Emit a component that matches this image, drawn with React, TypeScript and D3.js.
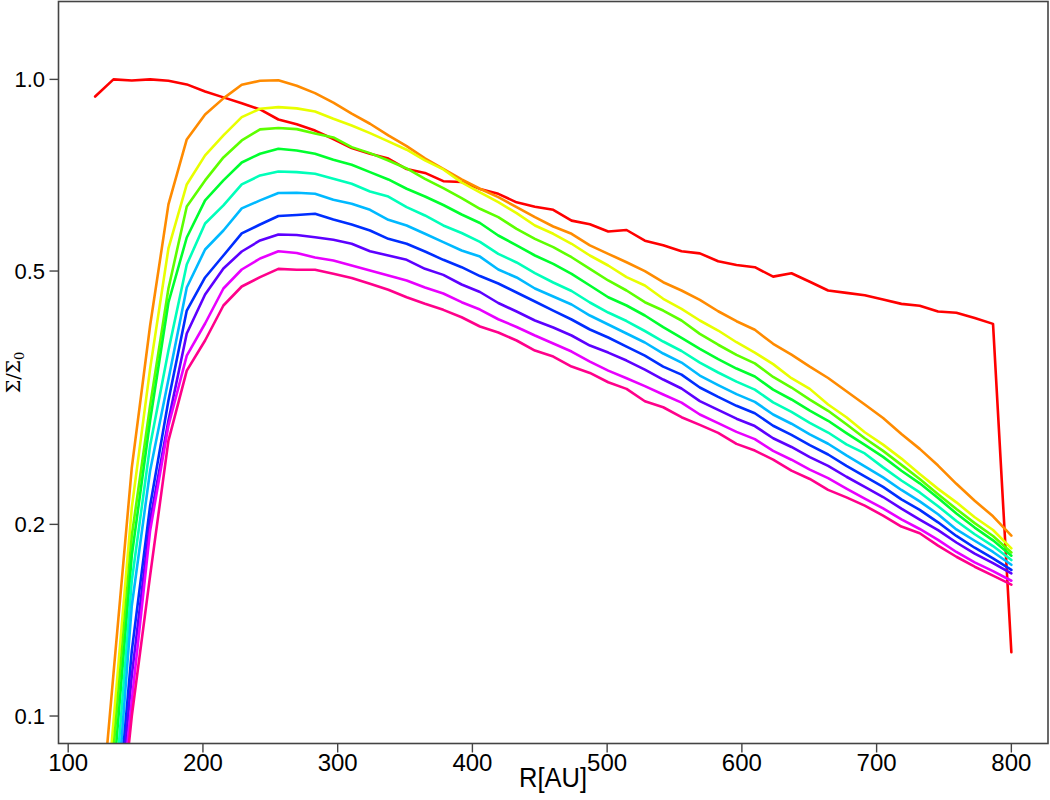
import React from 'react';
import * as d3 from 'd3';

// Radius sample points [AU]
const R_AU: number[] = [120, 133.6, 147.2, 160.8, 174.4, 188, 201.6, 215.2, 228.8, 242.4, 256, 269.6, 283.2, 296.8, 310.4, 324, 337.6, 351.2, 364.8, 378.4, 392, 405.6, 419.2, 432.8, 446.4, 460, 473.6, 487.2, 500.8, 514.4, 528, 541.6, 555.2, 568.8, 582.4, 596, 609.6, 623.2, 636.8, 650.4, 664, 677.6, 691.2, 704.8, 718.4, 732, 745.6, 759.2, 772.8, 786.4, 800];

// Surface density profiles Σ/Σ0 (one per snapshot)
const S00: number[] = [0.940, 1.000, 0.996, 1.000, 0.995, 0.982, 0.957, 0.937, 0.917, 0.897, 0.865, 0.850, 0.831, 0.806, 0.780, 0.764, 0.751, 0.723, 0.713, 0.692, 0.690, 0.673, 0.661, 0.641, 0.631, 0.624, 0.600, 0.592, 0.577, 0.580, 0.558, 0.549, 0.537, 0.533, 0.518, 0.511, 0.507, 0.490, 0.496, 0.481, 0.466, 0.462, 0.458, 0.451, 0.444, 0.441, 0.432, 0.430, 0.422, 0.413, 0.126];
const S01: number[] = [0.0548, 0.1165, 0.2456, 0.4106, 0.6362, 0.8048, 0.8810, 0.9336, 0.981, 0.995, 0.997, 0.977, 0.9516, 0.9191, 0.8832, 0.8518, 0.8166, 0.7855, 0.7514, 0.7237, 0.6964, 0.6733, 0.6531, 0.6300, 0.6075, 0.5874, 0.5721, 0.5485, 0.5321, 0.5162, 0.4997, 0.4802, 0.4660, 0.4506, 0.4323, 0.4170, 0.4043, 0.3843, 0.3696, 0.3539, 0.3396, 0.3237, 0.3085, 0.2939, 0.2774, 0.2628, 0.2474, 0.2316, 0.2179, 0.2059, 0.1920];
const S02: number[] = [0.0452, 0.0978, 0.2125, 0.3514, 0.5425, 0.6839, 0.7596, 0.8166, 0.8724, 0.8993, 0.9046, 0.9004, 0.8906, 0.8673, 0.8466, 0.8234, 0.7990, 0.7754, 0.7459, 0.7220, 0.6889, 0.6644, 0.6415, 0.6164, 0.5896, 0.5721, 0.5518, 0.5289, 0.5101, 0.4890, 0.4745, 0.4522, 0.4361, 0.4181, 0.4032, 0.3865, 0.3723, 0.3571, 0.3393, 0.3265, 0.3085, 0.2947, 0.2791, 0.2669, 0.2537, 0.2400, 0.2274, 0.2166, 0.2052, 0.1960, 0.1834];
const S03: number[] = [0.0427, 0.0887, 0.1920, 0.3074, 0.4694, 0.6316, 0.6939, 0.7541, 0.8019, 0.8345, 0.8386, 0.8354, 0.8225, 0.8107, 0.7827, 0.7659, 0.7459, 0.7246, 0.6980, 0.6750, 0.6509, 0.6263, 0.6075, 0.5825, 0.5618, 0.5451, 0.5256, 0.5040, 0.4832, 0.4660, 0.4467, 0.4334, 0.4181, 0.3984, 0.3830, 0.3693, 0.3580, 0.3409, 0.3281, 0.3141, 0.3016, 0.2872, 0.2731, 0.2609, 0.2480, 0.2357, 0.2231, 0.2114, 0.2009, 0.1918, 0.1807];
const S04: number[] = [0.0383, 0.0799, 0.1786, 0.2911, 0.4462, 0.5645, 0.6455, 0.6939, 0.7405, 0.7642, 0.7781, 0.7734, 0.7642, 0.7478, 0.7342, 0.7150, 0.6964, 0.6733, 0.6548, 0.6349, 0.6135, 0.5949, 0.5686, 0.5485, 0.5289, 0.5132, 0.4950, 0.4745, 0.4548, 0.4414, 0.4257, 0.4081, 0.3926, 0.3773, 0.3635, 0.3514, 0.3414, 0.3256, 0.3142, 0.3018, 0.2909, 0.2782, 0.2666, 0.2553, 0.2428, 0.2320, 0.2201, 0.2080, 0.1977, 0.1888, 0.1786];
const S05: number[] = [0.0344, 0.0707, 0.1631, 0.2660, 0.3750, 0.5119, 0.5938, 0.6339, 0.6839, 0.7065, 0.7168, 0.7150, 0.7108, 0.6980, 0.6856, 0.6668, 0.6545, 0.6300, 0.6113, 0.5896, 0.5737, 0.5555, 0.5321, 0.5157, 0.4964, 0.4797, 0.4652, 0.4462, 0.4303, 0.4173, 0.4025, 0.3875, 0.3744, 0.3591, 0.3464, 0.3351, 0.3256, 0.3109, 0.3005, 0.2888, 0.2788, 0.2671, 0.2585, 0.2458, 0.2344, 0.2245, 0.2136, 0.2025, 0.1930, 0.1849, 0.1758];
const S06: number[] = [0.0308, 0.0625, 0.1490, 0.2429, 0.3377, 0.4711, 0.5405, 0.5790, 0.6271, 0.6455, 0.6631, 0.6636, 0.6612, 0.6471, 0.6378, 0.6240, 0.6018, 0.5896, 0.5721, 0.5551, 0.5385, 0.5268, 0.5028, 0.4885, 0.4694, 0.4560, 0.4430, 0.4257, 0.4121, 0.3989, 0.3861, 0.3710, 0.3591, 0.3426, 0.3310, 0.3203, 0.3115, 0.2976, 0.2878, 0.2769, 0.2677, 0.2567, 0.2467, 0.2370, 0.2265, 0.2173, 0.2075, 0.1964, 0.1885, 0.1810, 0.1728];
const S07: number[] = [0.0287, 0.0592, 0.1266, 0.2140, 0.3130, 0.4334, 0.4885, 0.5289, 0.5728, 0.5917, 0.6100, 0.6123, 0.6150, 0.6025, 0.5917, 0.5790, 0.5618, 0.5518, 0.5366, 0.5207, 0.5070, 0.4910, 0.4779, 0.4627, 0.4478, 0.4334, 0.4196, 0.4047, 0.3932, 0.3805, 0.3683, 0.3539, 0.3438, 0.3281, 0.3171, 0.3071, 0.2989, 0.2857, 0.2765, 0.2663, 0.2575, 0.2472, 0.2379, 0.2290, 0.2189, 0.2108, 0.2015, 0.1918, 0.1838, 0.1769, 0.1696];
const S08: number[] = [0.0277, 0.0566, 0.1157, 0.2028, 0.2911, 0.3989, 0.4593, 0.5046, 0.5366, 0.5585, 0.5707, 0.5695, 0.5651, 0.5599, 0.5518, 0.5372, 0.5289, 0.5207, 0.5040, 0.4931, 0.4762, 0.4635, 0.4454, 0.4319, 0.4181, 0.4076, 0.3960, 0.3819, 0.3723, 0.3617, 0.3501, 0.3377, 0.3269, 0.3124, 0.3026, 0.2931, 0.2854, 0.2731, 0.2646, 0.2551, 0.2471, 0.2376, 0.2291, 0.2208, 0.2117, 0.2035, 0.1959, 0.1873, 0.1799, 0.1739, 0.1675];
const S09: number[] = [0.0267, 0.0546, 0.1058, 0.1955, 0.2859, 0.3683, 0.4136, 0.4694, 0.5028, 0.5232, 0.5370, 0.5336, 0.5251, 0.5194, 0.5101, 0.5010, 0.4920, 0.4832, 0.4711, 0.4610, 0.4467, 0.4350, 0.4200, 0.4084, 0.3960, 0.3847, 0.3737, 0.3604, 0.3488, 0.3393, 0.3298, 0.3199, 0.3107, 0.2976, 0.2884, 0.2795, 0.2722, 0.2609, 0.2527, 0.2438, 0.2364, 0.2277, 0.2196, 0.2119, 0.2036, 0.1967, 0.1891, 0.1810, 0.1743, 0.1689, 0.1631];
const S10: number[] = [0.0257, 0.0527, 0.1000, 0.1662, 0.2708, 0.3488, 0.3889, 0.4414, 0.4728, 0.4890, 0.5040, 0.5022, 0.5022, 0.4950, 0.4877, 0.4774, 0.4672, 0.4548, 0.4441, 0.4345, 0.4230, 0.4091, 0.4003, 0.3889, 0.3750, 0.3670, 0.3539, 0.3459, 0.3344, 0.3265, 0.3122, 0.3055, 0.2947, 0.2866, 0.2784, 0.2676, 0.2612, 0.2528, 0.2429, 0.2357, 0.2266, 0.2205, 0.2140, 0.2065, 0.1984, 0.1937, 0.1852, 0.1779, 0.1716, 0.1662, 0.1608];

const SERIES: number[][] = [S00, S01, S02, S03, S04, S05, S06, S07, S08, S09, S10];
// R's rainbow(11)
const COLORS: string[] = ['#FF0000', '#FF8B00', '#E8FF00', '#5DFF00', '#00FF2E', '#00FFB9', '#00B9FF', '#002EFF', '#5D00FF', '#E800FF', '#FF008B'];

const X_TICKS: number[] = [100, 200, 300, 400, 500, 600, 700, 800];
const Y_TICKS: number[] = [0.1, 0.2, 0.5, 1.0];
const Y_TICK_LABELS: string[] = ['0.1', '0.2', '0.5', '1.0'];
const XLIM: [number, number] = [120, 800];
const YLIM: [number, number] = [0.1, 1.2];

export default function App() {
  const W = 1050, H = 800;
  const left = 58.5, right = 1048, top = 1.5, bottom = 743.5;

  const xr = XLIM[1] - XLIM[0];
  const x = d3.scaleLinear()
    .domain([XLIM[0] - 0.04 * xr, XLIM[1] + 0.04 * xr])
    .range([left, right]);
  const l0 = Math.log10(YLIM[0]), l1 = Math.log10(YLIM[1]);
  const lr = l1 - l0;
  const y = d3.scaleLog()
    .domain([Math.pow(10, l0 - 0.04 * lr), Math.pow(10, l1 + 0.04 * lr)])
    .range([bottom, top]);

  const line = d3.line<number>()
    .x((_, i) => x(R_AU[i]))
    .y(d => y(d));

  const font = "'Liberation Sans', Arial, Helvetica, sans-serif";

  return (
    <svg width={W} height={H} viewBox={`0 0 ${W} ${H}`}
      style={{ position: 'absolute', left: 0, top: 0, background: '#fff' }}>
      <defs>
        <clipPath id="plotClip">
          <rect x={left} y={top} width={right - left} height={bottom - top} />
        </clipPath>
      </defs>
      <rect x={0} y={0} width={W} height={H} fill="#fff" />
      <g clipPath="url(#plotClip)">
        {SERIES.map((s, k) => (
          <path key={k} d={line(s) || ''} fill="none" stroke={COLORS[k]}
            strokeWidth={2.6} strokeLinejoin="round" strokeLinecap="round" />
        ))}
      </g>
      <rect x={left} y={top} width={right - left} height={bottom - top}
        fill="none" stroke="#444" strokeWidth={1.6} />
      {/* y axis */}
      {Y_TICKS.map((t, i) => (
        <g key={'y' + i}>
          <line x1={left} x2={left - 9} y1={y(t)} y2={y(t)} stroke="#444" strokeWidth={1.4} />
          <text x={45} y={y(t)} dy="0.36em" textAnchor="end" fontFamily={font} fontSize={22} fill="#000">
            {Y_TICK_LABELS[i]}
          </text>
        </g>
      ))}
      {/* x axis */}
      {X_TICKS.map((t, i) => (
        <g key={'x' + i}>
          <line x1={x(t)} x2={x(t)} y1={bottom} y2={bottom + 9} stroke="#444" strokeWidth={1.4} />
          <text x={x(t)} y={771} textAnchor="middle" fontFamily={font} fontSize={24} fill="#000">
            {String(t)}
          </text>
        </g>
      ))}
      <text x={553} y={787} textAnchor="middle" fontFamily={font} fontSize={27}
        textLength={68} lengthAdjust="spacingAndGlyphs" fill="#000">R[AU]</text>
      <text transform={`translate(20,${(top + bottom) / 2}) rotate(-90)`} textAnchor="middle"
        fontFamily="'DejaVu Serif', serif" fontSize={19} fill="#000">
        Σ/Σ<tspan fontSize={13} dy={4}>0</tspan>
      </text>
    </svg>
  );
}
